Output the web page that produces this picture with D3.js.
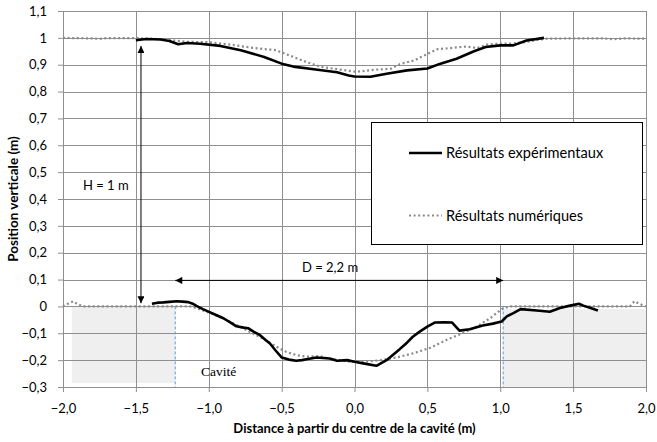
<!DOCTYPE html>
<html>
<head>
<meta charset="utf-8">
<script src="https://cdn.jsdelivr.net/npm/d3@7"></script>
<style>
  html, body { margin: 0; padding: 0; background: #fff; }
  svg { display: block; font-family: Lato, "Open Sans", sans-serif; }
</style>
</head>
<body>
<svg id="chart" width="657" height="442"></svg>
<script>
// Surface profiles above a cavity: experimental vs numerical results
const xTicks = [-2.0, -1.5, -1.0, -0.5, 0.0, 0.5, 1.0, 1.5, 2.0];
const yTicks = [-0.3, -0.2, -0.1, 0, 0.1, 0.2, 0.3, 0.4, 0.5, 0.6, 0.7, 0.8, 0.9, 1, 1.1];

// Numerical results, upper surface (x, y)
const numTop = [
  [-2.0, 1.0], [-1.8, 0.998], [-1.75, 0.996], [-1.7, 0.999], [-1.5, 0.999],
  [-1.4, 0.997], [-1.3, 0.994], [-1.24, 0.99], [-1.15, 0.985], [-1.01, 0.984],
  [-0.92, 0.979], [-0.85, 0.975], [-0.78, 0.969], [-0.7, 0.963], [-0.62, 0.958],
  [-0.55, 0.955], [-0.51, 0.948], [-0.42, 0.929], [-0.33, 0.91], [-0.23, 0.892],
  [-0.14, 0.885], [-0.05, 0.878], [0.0, 0.874], [0.06, 0.876], [0.13, 0.881],
  [0.25, 0.885], [0.31, 0.902], [0.41, 0.916], [0.5, 0.94], [0.57, 0.958],
  [0.66, 0.962], [0.77, 0.968], [0.84, 0.962], [0.91, 0.975], [1.0, 0.979],
  [1.09, 0.979], [1.18, 0.985], [1.27, 0.994], [1.32, 0.997], [1.5, 0.998],
  [1.7, 0.998], [1.78, 0.995], [1.85, 0.998], [2.0, 0.997]
];

// Experimental results, upper surface
const expTop = [
  [-1.5, 0.991], [-1.43, 0.996], [-1.33, 0.994], [-1.27, 0.988], [-1.21, 0.976],
  [-1.15, 0.981], [-1.06, 0.978], [-0.92, 0.97], [-0.78, 0.954], [-0.62, 0.929],
  [-0.5, 0.904], [-0.42, 0.893], [-0.28, 0.883], [-0.12, 0.872], [-0.04, 0.86],
  [0.0, 0.856], [0.11, 0.855], [0.22, 0.866], [0.36, 0.879], [0.5, 0.886],
  [0.59, 0.904], [0.7, 0.922], [0.82, 0.95], [0.9, 0.966], [1.0, 0.972],
  [1.09, 0.972], [1.18, 0.99], [1.3, 1.0]
];

// Numerical results, lower surface
const numBottom = [
  [-2.0, 0.0], [-1.96, 0.012], [-1.93, 0.019], [-1.9, 0.008], [-1.86, 0.0],
  [-1.5, 0.0], [-1.13, 0.0], [-1.085, -0.006], [-0.99, -0.025], [-0.9, -0.044],
  [-0.81, -0.069], [-0.72, -0.094], [-0.63, -0.119], [-0.535, -0.15], [-0.47, -0.169],
  [-0.4, -0.181], [-0.33, -0.187], [-0.24, -0.185], [-0.17, -0.195], [-0.03, -0.206],
  [0.06, -0.207], [0.18, -0.2], [0.29, -0.19], [0.4, -0.175], [0.52, -0.154],
  [0.63, -0.125], [0.75, -0.098], [0.84, -0.075], [0.93, -0.044], [1.01, -0.01],
  [1.06, 0.0], [1.5, 0.0], [1.89, 0.0], [1.92, 0.019], [1.97, 0.006], [2.0, 0.0]
];

// Experimental results, lower surface
const expBottom = [
  [-1.39, 0.01], [-1.35, 0.014], [-1.31, 0.015], [-1.27, 0.017], [-1.22, 0.019],
  [-1.18, 0.018], [-1.14, 0.016], [-1.11, 0.01], [-1.085, 0.002], [-1.04, -0.01],
  [-0.99, -0.022], [-0.95, -0.032], [-0.9, -0.044], [-0.85, -0.06], [-0.81, -0.074],
  [-0.76, -0.079], [-0.73, -0.081], [-0.69, -0.095], [-0.65, -0.106], [-0.61, -0.125],
  [-0.58, -0.138], [-0.54, -0.165], [-0.5, -0.19], [-0.45, -0.198], [-0.4, -0.202],
  [-0.36, -0.2], [-0.33, -0.197], [-0.26, -0.19], [-0.17, -0.194], [-0.12, -0.202],
  [-0.05, -0.2], [0.0, -0.206], [0.06, -0.212], [0.15, -0.221], [0.22, -0.2],
  [0.31, -0.159], [0.36, -0.135], [0.4, -0.113], [0.45, -0.093], [0.5, -0.075],
  [0.55, -0.06], [0.62, -0.059], [0.67, -0.06], [0.72, -0.09], [0.79, -0.085],
  [0.88, -0.071], [0.95, -0.064], [1.01, -0.056], [1.045, -0.037], [1.09, -0.025],
  [1.14, -0.01], [1.25, -0.015], [1.34, -0.02], [1.41, -0.006], [1.48, 0.003],
  [1.54, 0.01], [1.57, 0.003], [1.62, -0.006], [1.67, -0.015]
];

// Cavity zones (shaded) and their edges
const zones = [
  { x0: -1.94, x1: -1.23, y0: 0.0, y1: -0.285 },
  { x0: 1.02, x1: 2.0, y0: -0.01, y1: -0.3 }
];
const cavityEdges = [-1.23, 1.02];

// Dimension arrows
const heightArrow = { x: -1.465, y0: 0.012, y1: 0.97, label: "H = 1 m" };
const widthArrow = { y: 0.097, x0: -1.23, x1: 1.02, label: "D = 2,2 m" };

const seriesNames = ["Résultats expérimentaux", "Résultats numériques"];

const W = 657, H = 442;
const margin = { left: 63, right: 11, top: 11, bottom: 55 };
const svg = d3.select("#chart");

const x = d3.scaleLinear().domain([-2, 2]).range([margin.left, W - margin.right]);
const y = d3.scaleLinear().domain([-0.3, 1.1]).range([H - margin.bottom, margin.top]);

const gridColor = "#8f8f8f";
const fmt = (v, d) => d3.format("." + d + "f")(v).replace(".", ",");

// Shaded cavity zones
svg.append("g").selectAll("rect").data(zones).join("rect")
  .attr("x", d => x(d.x0)).attr("y", d => y(d.y0))
  .attr("width", d => x(d.x1) - x(d.x0))
  .attr("height", d => y(d.y1) - y(d.y0))
  .attr("fill", "#efefef");

// Gridlines
svg.append("g").selectAll("line").data(yTicks).join("line")
  .attr("x1", x(-2)).attr("x2", x(2))
  .attr("y1", d => Math.round(y(d)) + 0.5).attr("y2", d => Math.round(y(d)) + 0.5)
  .attr("stroke", gridColor).attr("stroke-width", 1);
svg.append("g").selectAll("line").data(xTicks).join("line")
  .attr("y1", y(-0.3)).attr("y2", y(1.1))
  .attr("x1", d => Math.round(x(d)) + 0.5).attr("x2", d => Math.round(x(d)) + 0.5)
  .attr("stroke", gridColor).attr("stroke-width", 1);

// Cavity edge markers
svg.append("g").selectAll("line").data(cavityEdges).join("line")
  .attr("x1", d => x(d)).attr("x2", d => x(d))
  .attr("y1", y(0)).attr("y2", y(-0.3))
  .attr("stroke", "#5b9bd5").attr("stroke-width", 1)
  .attr("stroke-dasharray", "3 2");

// Axes
const xAxis = svg.append("g")
  .attr("transform", `translate(0,${y(-0.3)})`)
  .call(d3.axisBottom(x).tickValues(xTicks).tickSize(5).tickPadding(12).tickFormat(d => fmt(d, 1)));
const yAxis = svg.append("g")
  .attr("transform", `translate(${x(-2)},0)`)
  .call(d3.axisLeft(y).tickValues(yTicks).tickSize(5).tickPadding(11)
    .tickFormat(d => Math.abs(d) < 1e-9 ? "0" : (Math.abs(d - 1) < 1e-9 ? "1" : fmt(d, 1))));
[xAxis, yAxis].forEach(g => {
  g.selectAll("path, line").attr("stroke", gridColor);
  g.selectAll("text").attr("fill", "#000").style("font-size", "13px")
    .style("font-family", "Lato, 'Open Sans', sans-serif");
});

// Curves
const line = d3.line().x(d => x(d[0])).y(d => y(d[1]));
const drawNum = data => svg.append("path").datum(data).attr("d", line)
  .attr("fill", "none").attr("stroke", "#8a8a8a").attr("stroke-width", 2.2)
  .attr("stroke-dasharray", "2 2.6");
const drawExp = data => svg.append("path").datum(data).attr("d", line)
  .attr("fill", "none").attr("stroke", "#000").attr("stroke-width", 2.6)
  .attr("stroke-linejoin", "round");
drawNum(numTop);
drawNum(numBottom);
drawExp(expTop);
drawExp(expBottom);

// Arrow markers
const defs = svg.append("defs");
defs.append("marker").attr("id", "arrow")
  .attr("viewBox", "0 0 10 10").attr("refX", 10).attr("refY", 5)
  .attr("markerWidth", 8).attr("markerHeight", 7).attr("markerUnits", "userSpaceOnUse")
  .attr("orient", "auto-start-reverse")
  .append("path").attr("d", "M0,0 L10,5 L0,10 Z").attr("fill", "#000");

svg.append("line")
  .attr("x1", x(heightArrow.x)).attr("x2", x(heightArrow.x))
  .attr("y1", y(heightArrow.y1)).attr("y2", y(heightArrow.y0))
  .attr("stroke", "#000").attr("stroke-width", 1)
  .attr("marker-start", "url(#arrow)").attr("marker-end", "url(#arrow)");
svg.append("line")
  .attr("x1", x(widthArrow.x0)).attr("x2", x(widthArrow.x1))
  .attr("y1", y(widthArrow.y)).attr("y2", y(widthArrow.y))
  .attr("stroke", "#000").attr("stroke-width", 1)
  .attr("marker-start", "url(#arrow)").attr("marker-end", "url(#arrow)");

svg.append("text").attr("x", 83).attr("y", 190)
  .style("font-size", "13px").text(heightArrow.label);
svg.append("text").attr("x", 302).attr("y", 272)
  .style("font-size", "13px").text(widthArrow.label);
svg.append("text").attr("x", 201).attr("y", 376)
  .style("font-family", "'Liberation Serif', 'DejaVu Serif', serif")
  .style("font-size", "13.5px").text("Cavité");

// Legend
const lg = svg.append("g");
lg.append("rect").attr("x", 371.5).attr("y", 122.5).attr("width", 271).attr("height", 122)
  .attr("fill", "#fff").attr("stroke", "#000").attr("stroke-width", 1);
const legendRows = [
  { name: seriesNames[0], cy: 153, style: "exp" },
  { name: seriesNames[1], cy: 215.5, style: "num" }
];
legendRows.forEach(r => {
  const l = lg.append("line").attr("x1", 409).attr("x2", 442)
    .attr("y1", r.cy).attr("y2", r.cy);
  if (r.style === "exp") l.attr("stroke", "#000").attr("stroke-width", 2.6);
  else l.attr("stroke", "#8a8a8a").attr("stroke-width", 2.2).attr("stroke-dasharray", "2 2.6");
  lg.append("text").attr("x", 446).attr("y", r.cy).attr("dy", "0.35em")
    .style("font-size", "14.6px").text(r.name);
});

// Axis titles
svg.append("text").attr("x", (x(-2) + x(2)) / 2).attr("y", 433)
  .attr("text-anchor", "middle").style("font-size", "13px").style("font-weight", "bold")
  .text("Distance à partir du centre de la cavité (m)");
svg.append("text")
  .attr("transform", `translate(18,${(y(-0.3) + y(1.1)) / 2}) rotate(-90)`)
  .attr("text-anchor", "middle").style("font-size", "13.5px").style("font-weight", "bold")
  .text("Position verticale (m)");
</script>
</body>
</html>
